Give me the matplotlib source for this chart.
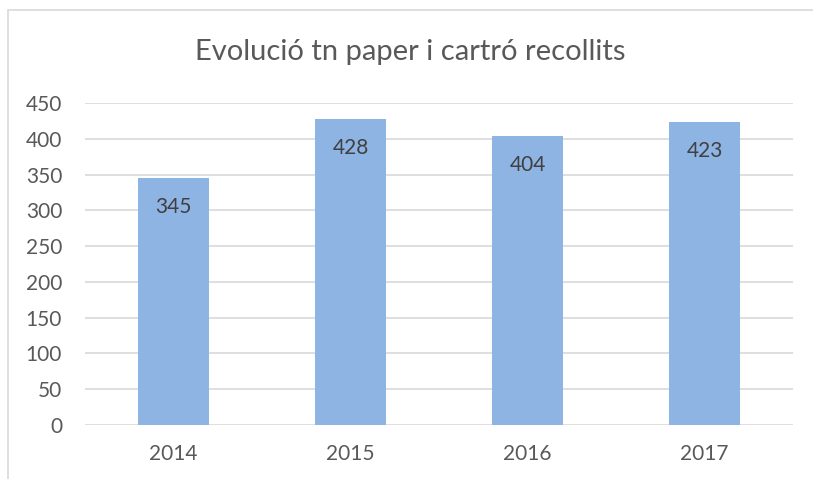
import matplotlib
matplotlib.use("Agg")
import matplotlib.pyplot as plt
from matplotlib.patches import Rectangle

years = ["2014", "2015", "2016", "2017"]
values = [345, 428, 404, 423]
yticks = [0, 50, 100, 150, 200, 250, 300, 350, 400, 450]
title = "Evolució tn paper i cartró recollits"

plt.rcParams['font.family'] = ['Lato', 'DejaVu Sans']
W, H = 813, 479
fig = plt.figure(figsize=(W/100, H/100), dpi=100)

# chart border
fig.patches.append(Rectangle((8/W, -0.1), 1.2, 1 - 10/H + 0.1, transform=fig.transFigure,
                             fill=False, edgecolor='#D9D9D9', linewidth=1.2))

left, right = 85/W, 793/W
bottom, top = 1 - 425/H, 1 - 103/H
ax = fig.add_axes([left, bottom, right-left, top-bottom])
x = range(len(years))
ax.bar(x, values, width=0.4, color='#8EB4E3', zorder=3)
ax.set_xlim(-0.5, len(years)-0.5)
ax.set_ylim(0, 450)
ax.set_yticks(yticks)
ax.set_xticks(list(x))
ax.set_xticklabels(years)
ax.yaxis.grid(True, color='#D9D9D9', linewidth=1.2, zorder=0)
for s in ax.spines.values():
    s.set_visible(False)
ax.tick_params(length=0, labelsize=15, colors='#595959')
ax.tick_params(axis='y', pad=16.5)
ax.tick_params(axis='x', pad=14)
for xi, v in zip(x, values):
    ax.annotate(str(v), (xi, v), xytext=(0, -29), textcoords='offset pixels',
                ha='center', va='center', fontsize=15, color='#404040', zorder=4)
fig.text(0.5 * (8/W + 1), 1 - 52/H, title, ha='center', va='center', fontsize=21, color='#595959')
fig.savefig("out.png", dpi=100)
